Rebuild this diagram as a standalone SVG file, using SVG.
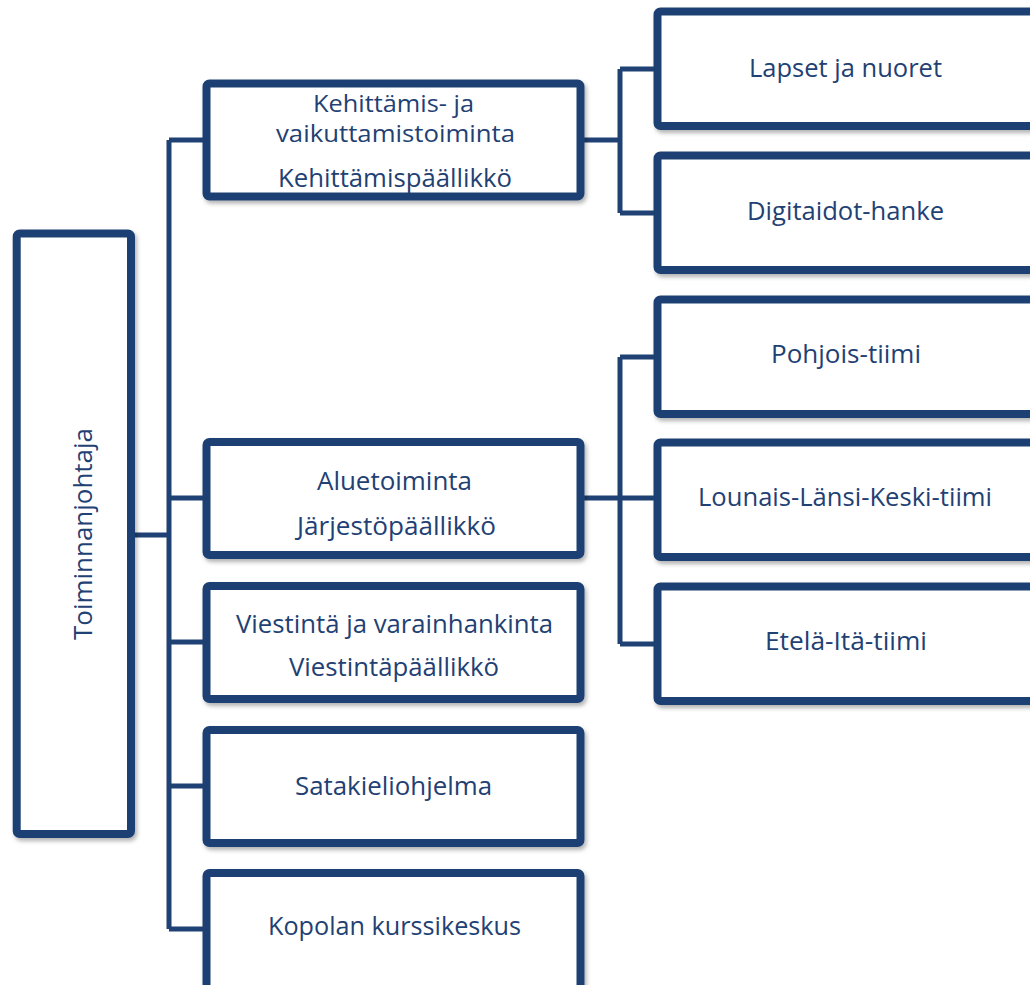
<svg xmlns="http://www.w3.org/2000/svg" width="1030" height="985" viewBox="0 0 1030 985">
<style>
.box{fill:#ffffff;stroke:#1F4173;stroke-width:8;filter:url(#sh);}
.con{fill:none;stroke:#1F4173;stroke-width:5;}
text{font-family:"Open Sans","Noto Sans","DejaVu Sans",sans-serif;font-size:25px;fill:#1F4173;text-anchor:middle;}
.sm{font-size:24px;}
</style>
<defs>
<filter id="sh" x="-10%" y="-10%" width="130%" height="130%">
<feDropShadow dx="2" dy="3" stdDeviation="2" flood-color="#000" flood-opacity="0.3"/>
</filter>
</defs>
<g id="connectors">
<path class="con" d="M131,535 H169 M169,140 V929 M169,140 H206 M169,498 H206 M169,642 H206 M169,786 H206 M169,929 H206"/>
<path class="con" d="M580,140 H620 M620,69 V213 M620,69 H657 M620,213 H657"/>
<path class="con" d="M580,498 H657 M620,357 V644 M620,357 H657 M620,644 H657"/>
</g>
<g id="toiminnanjohtaja">
<rect class="box" x="16.7" y="233.5" width="114.3" height="600.5" rx="3"/>
<text transform="translate(92,534) rotate(-90)" textLength="212" lengthAdjust="spacingAndGlyphs">Toiminnanjohtaja</text>
</g>
<g id="kehittamis">
<rect class="box" x="206.5" y="83.5" width="374" height="113" rx="3"/>
<text class="sm" x="393.5" y="111.5" textLength="161" lengthAdjust="spacingAndGlyphs">Kehittämis- ja</text>
<text class="sm" x="395.5" y="141.5" textLength="239" lengthAdjust="spacingAndGlyphs">vaikuttamistoiminta</text>
<text x="395" y="186.5" textLength="234" lengthAdjust="spacingAndGlyphs">Kehittämispäällikkö</text>
</g>
<g id="aluetoiminta">
<rect class="box" x="206.5" y="442" width="374" height="113" rx="3"/>
<text x="394.5" y="490" textLength="155" lengthAdjust="spacingAndGlyphs">Aluetoiminta</text>
<text x="396.5" y="535" textLength="199" lengthAdjust="spacingAndGlyphs">Järjestöpäällikkö</text>
</g>
<g id="viestinta">
<rect class="box" x="206.5" y="586" width="374" height="113" rx="3"/>
<text x="394.5" y="633" textLength="317" lengthAdjust="spacingAndGlyphs">Viestintä ja varainhankinta</text>
<text x="394" y="676" textLength="210" lengthAdjust="spacingAndGlyphs">Viestintäpäällikkö</text>
</g>
<g id="satakieli">
<rect class="box" x="206.5" y="730" width="374" height="113" rx="3"/>
<text x="393.5" y="795" textLength="197" lengthAdjust="spacingAndGlyphs">Satakieliohjelma</text>
</g>
<g id="kopola">
<rect class="box" x="206.5" y="873" width="374" height="120" rx="3"/>
<text x="394.5" y="935" textLength="253" lengthAdjust="spacingAndGlyphs">Kopolan kurssikeskus</text>
</g>
<g id="lapset">
<rect class="box" x="657.5" y="11.5" width="380" height="114.5" rx="3"/>
<text x="845.5" y="77" textLength="193" lengthAdjust="spacingAndGlyphs">Lapset ja nuoret</text>
</g>
<g id="digitaidot">
<rect class="box" x="657.5" y="155.5" width="380" height="114.5" rx="3"/>
<text x="845.5" y="220" textLength="197" lengthAdjust="spacingAndGlyphs">Digitaidot-hanke</text>
</g>
<g id="pohjois">
<rect class="box" x="657.5" y="299.5" width="380" height="114.5" rx="3"/>
<text x="846" y="363" textLength="150" lengthAdjust="spacingAndGlyphs">Pohjois-tiimi</text>
</g>
<g id="lounais">
<rect class="box" x="657.5" y="442.5" width="380" height="114.5" rx="3"/>
<text x="845" y="506" textLength="294" lengthAdjust="spacingAndGlyphs">Lounais-Länsi-Keski-tiimi</text>
</g>
<g id="etela">
<rect class="box" x="657.5" y="586.5" width="380" height="114.5" rx="3"/>
<text x="846" y="650" textLength="162" lengthAdjust="spacingAndGlyphs">Etelä-Itä-tiimi</text>
</g>
</svg>
